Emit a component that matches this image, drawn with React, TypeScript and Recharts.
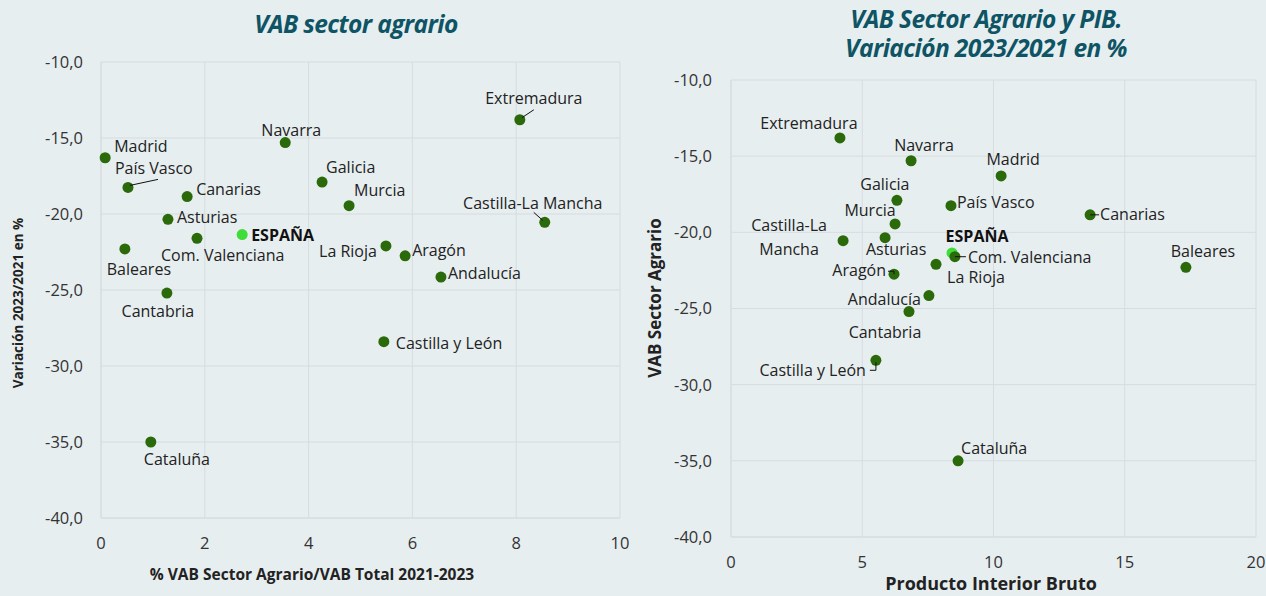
import { ScatterChart, Scatter, XAxis, YAxis, CartesianGrid } from 'recharts';

// Comunidades autónomas (orden común a los dos gráficos)
const regions = [
  'ESPAÑA', 'Madrid', 'País Vasco', 'Canarias', 'Asturias', 'Com. Valenciana',
  'Baleares', 'Cantabria', 'Cataluña', 'Navarra', 'Galicia', 'Murcia',
  'La Rioja', 'Aragón', 'Andalucía', 'Castilla y León', 'Extremadura', 'Castilla-La Mancha',
];

// Variación 2023/2021 del VAB agrario (%)
const vabAgrarioVar = [
  -21.35, -16.3, -18.25, -18.85, -20.35, -21.6,
  -22.3, -25.2, -35.0, -15.3, -17.9, -19.45,
  -22.1, -22.75, -24.15, -28.4, -13.8, -20.55,
];

// % VAB sector agrario / VAB total 2021-2023
const pesoAgrario = [
  2.72, 0.08, 0.52, 1.66, 1.29, 1.85,
  0.46, 1.27, 0.96, 3.55, 4.26, 4.78,
  5.49, 5.86, 6.55, 5.45, 8.07, 8.55,
];

// Variación 2023/2021 del PIB (%)
const pibVar = [
  8.42, 10.29, 8.38, 13.68, 5.87, 8.53,
  17.33, 6.78, 8.65, 6.86, 6.32, 6.25,
  7.81, 6.21, 7.54, 5.52, 4.15, 4.27,
];

const yTicks = [-40, -35, -30, -25, -20, -15, -10];
const xTicksLeft = [0, 2, 4, 6, 8, 10];
const xTicksRight = [0, 5, 10, 15, 20];

const leftData = regions.map((name, i) => ({ name, x: pesoAgrario[i], y: vabAgrarioVar[i] }));
const rightData = regions.map((name, i) => ({ name, x: pibVar[i], y: vabAgrarioVar[i] }));

type LabelPos = {
  dx: number;
  dy: number;
  anchor: 'start' | 'middle' | 'end';
  lines?: string[];
  leader?: number[]; // polyline points relative to the dot
};

const leftLabels: Record<string, LabelPos> = {
  'ESPAÑA': { dx: 9, dy: 0, anchor: 'start' },
  'Madrid': { dx: 9, dy: -12, anchor: 'start' },
  'País Vasco': { dx: -13, dy: -19, anchor: 'start', leader: [2, -2, 30, -8] },
  'Canarias': { dx: 9, dy: -8, anchor: 'start' },
  'Asturias': { dx: 9, dy: -2, anchor: 'start' },
  'Com. Valenciana': { dx: -36, dy: 17, anchor: 'start' },
  'Baleares': { dx: 14, dy: 20, anchor: 'middle' },
  'Cantabria': { dx: -9, dy: 18, anchor: 'middle' },
  'Cataluña': { dx: -7, dy: 17, anchor: 'start' },
  'Navarra': { dx: 6, dy: -13, anchor: 'middle' },
  'Galicia': { dx: 4, dy: -15, anchor: 'start' },
  'Murcia': { dx: 5, dy: -16, anchor: 'start' },
  'La Rioja': { dx: -9, dy: 5, anchor: 'end' },
  'Aragón': { dx: 7, dy: -6, anchor: 'start' },
  'Andalucía': { dx: 7, dy: -4, anchor: 'start' },
  'Castilla y León': { dx: 12, dy: 1, anchor: 'start' },
  'Extremadura': { dx: 14, dy: -22, anchor: 'middle', leader: [2, -2, 14, -10] },
  'Castilla-La Mancha': { dx: -12, dy: -19, anchor: 'middle', leader: [-2, -2, -11, -10] },
};

const rightLabels: Record<string, LabelPos> = {
  'ESPAÑA': { dx: 25, dy: -17, anchor: 'middle' },
  'Madrid': { dx: 12, dy: -17, anchor: 'middle' },
  'País Vasco': { dx: 6, dy: -4, anchor: 'start' },
  'Canarias': { dx: 10, dy: -1, anchor: 'start', leader: [0, 0, 9, 0] },
  'Asturias': { dx: 11, dy: 11, anchor: 'middle' },
  'Com. Valenciana': { dx: 13, dy: 0, anchor: 'start', leader: [0, 0, 11, 0] },
  'Baleares': { dx: 17, dy: -16, anchor: 'middle' },
  'Cantabria': { dx: -24, dy: 20, anchor: 'middle' },
  'Cataluña': { dx: 3, dy: -13, anchor: 'start' },
  'Navarra': { dx: 13, dy: -16, anchor: 'middle' },
  'Galicia': { dx: -12, dy: -16, anchor: 'middle' },
  'Murcia': { dx: -25, dy: -14, anchor: 'middle' },
  'La Rioja': { dx: 40, dy: 13, anchor: 'middle' },
  'Aragón': { dx: -8, dy: -4, anchor: 'end', leader: [-6, -3, 0, -3, 0, 0] },
  'Andalucía': { dx: -8, dy: 3, anchor: 'end' },
  'Castilla y León': { dx: -10, dy: 10, anchor: 'end', leader: [0, 2, 0, 10, -6, 10] },
  'Extremadura': { dx: -31, dy: -15, anchor: 'middle' },
  'Castilla-La Mancha': { dx: -54, dy: -16, anchor: 'middle', lines: ['Castilla-La', 'Mancha'] },
};

const FONT = '"Open Sans", sans-serif';
const BG = '#e7eef0';
const GRID = '#d6dcdf';
const DOT = '#2b6a0b';
const DOT_ES = '#3fdc3a';
const TITLE = '#0e5464';

const fmt = (v: number) => v.toFixed(1).replace('.', ',');

function Mark(props: any) {
  const { cx, cy, payload, labels } = props;
  if (cx == null || cy == null) return null;
  const pos: LabelPos = labels[payload.name];
  const isEs = payload.name === 'ESPAÑA';
  const lines = pos.lines ?? [payload.name];
  let pts = '';
  if (pos.leader) {
    for (let i = 0; i < pos.leader.length; i += 2) {
      pts += `${cx + pos.leader[i]},${cy + pos.leader[i + 1]} `;
    }
  }
  return (
    <g>
      <circle cx={cx} cy={cy} r={5.5} fill={isEs ? DOT_ES : DOT} />
      {pos.leader && <polyline points={pts} fill="none" stroke="#111" strokeWidth={1} />}
      {lines.map((t, i) => (
        <text
          key={i}
          x={cx + pos.dx}
          y={cy + pos.dy + i * 24}
          textAnchor={pos.anchor}
          dominantBaseline="central"
          fontFamily={FONT}
          fontSize={16}
          fontWeight={isEs ? 700 : 400}
          fill={isEs ? '#111' : '#222'}
        >
          {t}
        </text>
      ))}
    </g>
  );
}

const tickStyle = { fontFamily: FONT, fontSize: 16.5, fill: '#333' };

const titleStyle: React.CSSProperties = {
  position: 'absolute',
  textAlign: 'center',
  fontFamily: FONT,
  fontStyle: 'italic',
  fontWeight: 700,
  fontSize: 24.5,
  lineHeight: '25px',
  color: TITLE,
  letterSpacing: -0.6,
  whiteSpace: 'nowrap',
};

export default function App() {
  return (
    <div style={{ position: 'absolute', left: 0, top: 0, width: 1266, height: 596, background: BG, overflow: 'hidden' }}>
      {/* Gráfico izquierdo */}
      <div style={{ position: 'absolute', left: 0, top: 0, width: 640, height: 596 }}>
        <ScatterChart width={640} height={596} margin={{ top: 62, right: 20, bottom: 48, left: 41 }}>
          <CartesianGrid stroke={GRID} />
          <XAxis
            type="number"
            dataKey="x"
            domain={[0, 10]}
            ticks={xTicksLeft}
            height={30}
            tickSize={0}
            tickMargin={19}
            axisLine={{ stroke: GRID }}
            tick={tickStyle}
          />
          <YAxis
            type="number"
            dataKey="y"
            domain={[-40, -10]}
            ticks={yTicks}
            width={60}
            tickSize={0}
            tickMargin={18}
            axisLine={{ stroke: GRID }}
            tick={tickStyle}
            tickFormatter={fmt}
          />
          <Scatter data={leftData} isAnimationActive={false} shape={(p: any) => <Mark {...p} labels={leftLabels} />} />
        </ScatterChart>
      </div>

      {/* Gráfico derecho */}
      <div style={{ position: 'absolute', left: 640, top: 0, width: 626, height: 596 }}>
        <ScatterChart width={626} height={596} margin={{ top: 80, right: 10, bottom: 29, left: 31 }}>
          <CartesianGrid stroke={GRID} />
          <XAxis
            type="number"
            dataKey="x"
            domain={[0, 20]}
            ticks={xTicksRight}
            height={30}
            tickSize={0}
            tickMargin={19}
            axisLine={{ stroke: GRID }}
            tick={tickStyle}
          />
          <YAxis
            type="number"
            dataKey="y"
            domain={[-40, -10]}
            ticks={yTicks}
            width={60}
            tickSize={0}
            tickMargin={19}
            axisLine={{ stroke: GRID }}
            tick={tickStyle}
            tickFormatter={fmt}
          />
          <Scatter data={rightData} isAnimationActive={false} shape={(p: any) => <Mark {...p} labels={rightLabels} />} />
        </ScatterChart>
      </div>

      {/* Títulos */}
      <div style={{ ...titleStyle, left: 156, width: 400, top: 11 }}>VAB sector agrario</div>
      <div style={{ ...titleStyle, left: 786, width: 400, top: 6 }}>VAB Sector Agrario y PIB.</div>
      <div style={{ ...titleStyle, left: 786, width: 400, top: 35 }}>Variación 2023/2021 en %</div>

      {/* Títulos de ejes */}
      <div style={{ position: 'absolute', left: 112, width: 400, top: 563, textAlign: 'center', fontFamily: FONT, fontWeight: 700, fontSize: 15.5, color: '#222', whiteSpace: 'nowrap' }}>
        % VAB Sector Agrario/VAB Total 2021-2023
      </div>
      <div style={{ position: 'absolute', left: 18, top: 303, width: 0, height: 0 }}>
        <div style={{ position: 'absolute', transform: 'translate(-50%, -50%) rotate(-90deg)', whiteSpace: 'nowrap', fontFamily: FONT, fontWeight: 700, fontSize: 13.5, color: '#222' }}>
          Variación 2023/2021 en %
        </div>
      </div>
      <div style={{ position: 'absolute', left: 791, width: 400, top: 571, textAlign: 'center', fontFamily: FONT, fontWeight: 700, fontSize: 18, color: '#222', whiteSpace: 'nowrap' }}>
        Producto Interior Bruto
      </div>
      <div style={{ position: 'absolute', left: 654, top: 298, width: 0, height: 0 }}>
        <div style={{ position: 'absolute', transform: 'translate(-50%, -50%) rotate(-90deg)', whiteSpace: 'nowrap', fontFamily: FONT, fontWeight: 700, fontSize: 17, color: '#222' }}>
          VAB Sector Agrario
        </div>
      </div>
    </div>
  );
}
